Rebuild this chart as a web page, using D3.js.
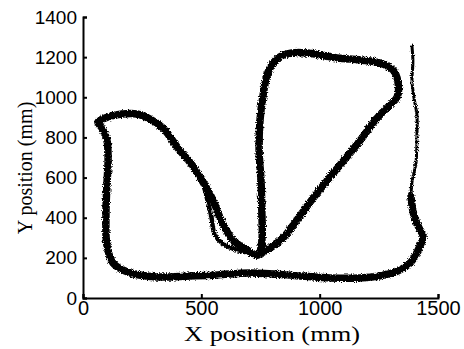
<!DOCTYPE html>
<html>
<head>
<meta charset="utf-8">
<script src="https://cdn.jsdelivr.net/npm/d3@7"></script>
<style>
  html, body { margin: 0; padding: 0; background: #fff; }
  svg { display: block; }
</style>
</head>
<body>
<div id="chart"></div>
<script>
// tick values
const xTicks = [0, 500, 1000, 1500];
const yTicks = [0, 200, 400, 600, 800, 1000, 1200, 1400];

// thin first leg on the right (mm)
const entryX = [1390, 1394, 1390, 1398, 1411, 1411, 1407, 1390, 1386];
const entryY = [1255, 1176, 1086, 1001, 912, 812, 673, 578, 503];

// thick repeated loop (mm)
const lapX = [1386, 1398, 1420, 1437, 1420, 1386, 1331, 1255, 1170, 1044, 917, 706, 566, 452, 313, 199, 127, 101, 97, 101, 106, 101, 80, 63, 106, 165, 228, 283, 338, 401, 461, 507, 549, 587, 634, 693, 739,
  756, 756, 752, 744, 748, 761, 782, 824, 883, 946, 1073, 1170, 1255, 1310, 1331, 1327,
  1297, 1255, 1225, 1179, 1128, 1086, 1044, 976, 904, 845, 790, 748];
const lapY = [503, 413, 349, 309, 249, 179, 135, 110, 100, 100, 110, 125, 115, 110, 105, 125, 174, 264, 413, 563, 688, 787, 847, 877, 902, 917, 917, 892, 847, 747, 663, 578, 488, 379, 289, 239, 214,
  289, 413, 588, 737, 887, 1011, 1126, 1196, 1221, 1221, 1196, 1186, 1171, 1136, 1076, 1001,
  962, 912, 872, 797, 722, 663, 603, 503, 389, 299, 249, 219];

// second track splitting off near the bottom of the V (mm)
const branchX = [515, 541, 558, 600, 684];
const branchY = [538, 413, 314, 264, 229];

const width = 464, height = 349;

const x = d3.scaleLinear().domain([0, 1500]).range([83, 438]);
const y = d3.scaleLinear().domain([0, 1400]).range([298, 17]);

const svg = d3.select('#chart').append('svg')
  .attr('width', width)
  .attr('height', height);

// rough edges like the scanned trace
const defs = svg.append('defs');
const f = defs.append('filter').attr('id', 'rough')
  .attr('x', '-5%').attr('y', '-5%').attr('width', '110%').attr('height', '110%');
f.append('feTurbulence').attr('type', 'fractalNoise').attr('baseFrequency', 0.8)
  .attr('numOctaves', 2).attr('seed', 3).attr('result', 'noise');
f.append('feDisplacementMap').attr('in', 'SourceGraphic').attr('in2', 'noise')
  .attr('scale', 4).attr('xChannelSelector', 'R').attr('yChannelSelector', 'G');

const line = d3.line()
  .x(d => x(d[0]))
  .y(d => y(d[1]))
  .curve(d3.curveCatmullRom.alpha(0.5));

const trace = svg.append('g').attr('filter', 'url(#rough)');

function drawTrace(xs, ys, w) {
  trace.append('path')
    .datum(xs.map((v, i) => [v, ys[i]]))
    .attr('d', line)
    .attr('fill', 'none')
    .attr('stroke', '#000')
    .attr('stroke-width', w)
    .attr('stroke-linejoin', 'round')
    .attr('stroke-linecap', 'round');
}

drawTrace(entryX, entryY, 3);
drawTrace(lapX, lapY, 7.5);
drawTrace(branchX, branchY, 4.5);

// axes
const xAxis = svg.append('g')
  .attr('transform', 'translate(0,298)')
  .call(d3.axisBottom(x).tickValues(xTicks).tickFormat(d3.format('d'))
    .tickSize(-4).tickSizeOuter(-4).tickPadding(3));

const yAxis = svg.append('g')
  .attr('transform', 'translate(83,0)')
  .call(d3.axisLeft(y).tickValues(yTicks).tickFormat(d3.format('d'))
    .tickSize(-4).tickSizeOuter(-4).tickPadding(6));

[xAxis, yAxis].forEach(a => {
  a.selectAll('path, line').attr('stroke', '#000').attr('stroke-width', 2);
  a.selectAll('text').attr('fill', '#000')
    .style('font-family', '"Liberation Sans", Arial, sans-serif');
});
xAxis.selectAll('text').style('font-size', '20px');
yAxis.selectAll('text').style('font-size', '19px');

svg.append('text')
  .attr('x', 272)
  .attr('y', 341)
  .attr('text-anchor', 'middle')
  .attr('textLength', 176)
  .attr('lengthAdjust', 'spacingAndGlyphs')
  .style('font-family', '"Liberation Serif", "Times New Roman", serif')
  .style('font-size', '21px')
  .text('X position (mm)');

svg.append('text')
  .attr('transform', 'translate(32,168) rotate(-90)')
  .attr('text-anchor', 'middle')
  .style('font-family', '"Liberation Serif", "Times New Roman", serif')
  .style('font-size', '20px')
  .text('Y position (mm)');
</script>
</body>
</html>
